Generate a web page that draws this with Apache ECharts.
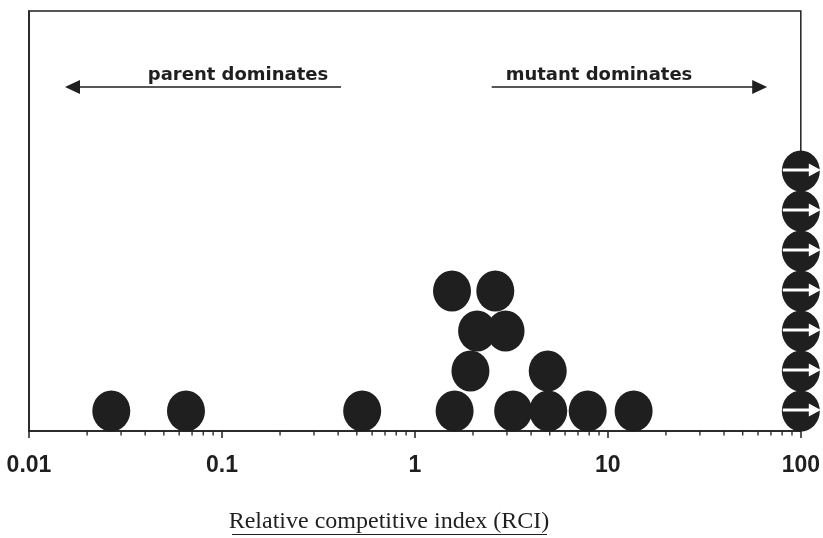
<!DOCTYPE html>
<html><head><meta charset="utf-8">
<script src="https://cdn.jsdelivr.net/npm/echarts@6/dist/echarts.min.js"></script>
<style>html,body{margin:0;padding:0;background:#fff}#c{width:823px;height:538px}</style>
</head><body><div id="c"></div>
<script>
// RCI values of individual strains (dot plot) and their stack level
const rciValues   = [0.0267, 0.0651, 0.533, 1.606, 3.23, 4.91, 7.86, 13.6, 1.94, 4.88, 2.10, 2.95, 1.557, 2.61];
const stackLevels = [1, 1, 1, 1, 1, 1, 1, 1, 2, 2, 3, 3, 4, 4];
// strains with RCI >= 100 (drawn with a right-pointing arrow)
const cappedValues = [100, 100, 100, 100, 100, 100, 100];
const cappedLevels = [1, 2, 3, 4, 5, 6, 7];
// axis ticks
const majorTicks = [0.01, 0.1, 1, 10, 100];
const tickLabels = ['0.01', '0.1', '1', '10', '100'];
const minorTicks = [0.02,0.03,0.04,0.05,0.06,0.07,0.08,0.09,
                    0.2,0.3,0.4,0.5,0.6,0.7,0.8,0.9,
                    2,3,4,5,6,7,8,9,
                    20,30,40,50,60,70,80,90];
// annotation arrows (x from tail to tip, level on y)
const parentArrow = [0.414, 0.0168];
const mutantArrow = [2.5, 61.2];
const arrowLevel = 9.1;
const yMin = 0.5, yMax = 11;

const ink = '#1f1f1f';
const chart = echarts.init(document.getElementById('c'), null, {renderer: 'canvas'});

const option = {
  animation: false,
  grid: {left: 29, right: 20, top: 11, bottom: 107, show: true, borderColor: ink, borderWidth: 1.5},
  xAxis: {
    type: 'log', logBase: 10, min: 0.01, max: 100,
    axisLine: {onZero: false, lineStyle: {color: ink, width: 1.5}},
    axisTick: {show: true, inside: false, length: 7, lineStyle: {color: ink, width: 1.5}},
    splitLine: {show: false},
    axisLabel: {
      margin: 23, fontFamily: 'Liberation Sans', fontWeight: 'bold', fontSize: 23, color: ink,
      formatter: function (v) {
        for (let i = 0; i < majorTicks.length; i++) {
          if (Math.abs(Math.log10(v) - Math.log10(majorTicks[i])) < 1e-6) return tickLabels[i];
        }
        return '';
      }
    }
  },
  yAxis: {
    type: 'value', min: yMin, max: yMax,
    axisLine: {show: true, onZero: false, lineStyle: {color: ink, width: 1.5}},
    axisTick: {show: false}, axisLabel: {show: false}, splitLine: {show: false}
  },
  series: [
    {
      type: 'custom', silent: true, clip: false, z: 5,
      data: minorTicks.map(v => [v, yMin]),
      renderItem: function (params, api) {
        const p = api.coord([api.value(0), api.value(1)]);
        return {type: 'line', shape: {x1: p[0], y1: p[1], x2: p[0], y2: p[1] + 4.5},
                style: {stroke: ink, lineWidth: 1.3}};
      }
    },
    {
      type: 'scatter', clip: false, silent: true, z: 2,
      symbol: 'circle', symbolSize: [38, 41],
      itemStyle: {color: ink, opacity: 1},
      data: rciValues.map((v, i) => [v, stackLevels[i]]),
      markLine: {
        silent: true, animation: false,
        label: {show: false},
        data: [
          [{xAxis: 1, symbol: 'none', lineStyle: {color: ink, width: 1.5, type: 'solid'}},
           {xAxis: 1, symbol: 'none'}],
          [{coord: [parentArrow[0], arrowLevel], symbol: 'none', lineStyle: {color: ink, width: 1.5, type: 'solid'}},
           {coord: [parentArrow[1], arrowLevel], symbol: 'triangle', symbolSize: [14, 15]}],
          [{coord: [mutantArrow[0], arrowLevel], symbol: 'none', lineStyle: {color: ink, width: 1.5, type: 'solid'}},
           {coord: [mutantArrow[1], arrowLevel], symbol: 'triangle', symbolSize: [14, 15]}]
        ]
      }
    },
    {
      type: 'scatter', clip: false, silent: true, z: 2,
      symbol: 'circle', symbolSize: [38, 41],
      itemStyle: {color: ink, opacity: 1},
      data: cappedValues.map((v, i) => [v, cappedLevels[i]])
    },
    {
      type: 'scatter', clip: false, silent: true, z: 3,
      symbol: 'path://M0,5 L26,5 L26,0 L38,6.5 L26,13 L26,8 L0,8 Z',
      symbolSize: [38, 13], symbolOffset: [1, -1],
      itemStyle: {color: '#ffffff', opacity: 1},
      data: cappedValues.map((v, i) => [v, cappedLevels[i]])
    }
  ],
  graphic: [
    {type: 'text', silent: true, z: 10,
     style: {x: 238, y: 75, text: 'parent dominates', textAlign: 'center', textVerticalAlign: 'middle',
             font: 'bold 18px "DejaVu Sans"', fill: ink}},
    {type: 'text', silent: true, z: 10,
     style: {x: 599, y: 75, text: 'mutant dominates', textAlign: 'center', textVerticalAlign: 'middle',
             font: 'bold 18px "DejaVu Sans"', fill: ink}},
    {type: 'text', silent: true, z: 10,
     style: {x: 389, y: 522, text: 'Relative competitive index (RCI)', textAlign: 'center', textVerticalAlign: 'middle',
             font: '24px "Liberation Serif"', fill: ink}},
    {type: 'line', silent: true, z: 10,
     shape: {x1: 232, y1: 534.5, x2: 547, y2: 534.5}, style: {stroke: ink, lineWidth: 1}}
  ]
};
chart.setOption(option);
</script>
</body></html>
